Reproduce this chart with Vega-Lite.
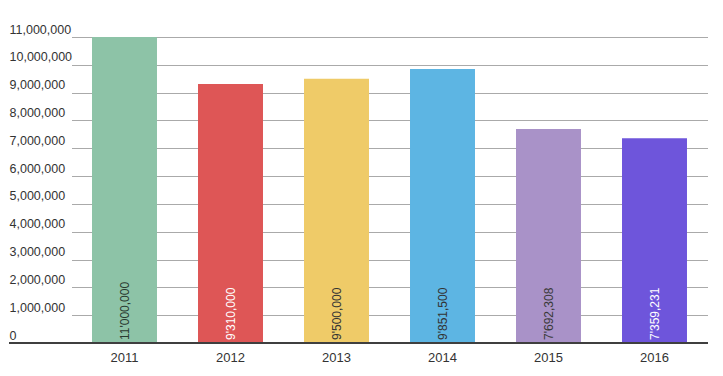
{
  "$schema": "https://vega.github.io/schema/vega-lite/v6.json",
  "autosize": {"type": "none"},
  "width": 699,
  "height": 306,
  "padding": {"left": 9, "top": 37, "right": 15, "bottom": 33},
  "background": "white",
  "config": {
    "view": {"stroke": null},
    "font": "Liberation Sans"
  },
  "data": {
    "values": [
      {"year": "2011", "value": 11000000, "label": "11'000,000", "color": "#8DC3A7", "textColor": "#2a3a30"},
      {"year": "2012", "value": 9310000, "label": "9'310,000", "color": "#DE5656", "textColor": "#ffffff"},
      {"year": "2013", "value": 9500000, "label": "9'500,000", "color": "#EFCB68", "textColor": "#333333"},
      {"year": "2014", "value": 9851500, "label": "9'851,500", "color": "#5DB5E3", "textColor": "#333333"},
      {"year": "2015", "value": 7692308, "label": "7'692,308", "color": "#A992C8", "textColor": "#3a3a3a"},
      {"year": "2016", "value": 7359231, "label": "7'359,231", "color": "#6E55DB", "textColor": "#ffffff"}
    ]
  },
  "encoding": {
    "x": {
      "field": "year", "type": "nominal", "sort": null,
      "scale": {"range": [62.5, 698.5], "paddingInner": 0.387, "paddingOuter": 0.1935},
      "axis": {
        "title": null, "domain": false, "ticks": false, "labelAngle": 0,
        "labelFontSize": 13, "labelColor": "#333333", "labelPadding": 8
      }
    },
    "y": {
      "field": "value", "type": "quantitative",
      "scale": {"domain": [0, 11000000], "nice": false},
      "axis": {
        "title": null, "domain": false, "ticks": false,
        "values": [0, 1000000, 2000000, 3000000, 4000000, 5000000, 6000000, 7000000, 8000000, 9000000, 10000000, 11000000],
        "format": ",d",
        "grid": true, "gridColor": "#aaaaaa", "gridWidth": 1,
        "labelAlign": "left", "labelPadding": 0, "labelBaseline": "alphabetic", "labelOffset": -4,
        "labelFontSize": 12.5, "labelColor": "#333333"
      }
    }
  },
  "layer": [
    {
      "mark": {"type": "bar"},
      "encoding": {
        "color": {"field": "color", "type": "nominal", "scale": null, "legend": null}
      }
    },
    {
      "mark": {"type": "rule", "color": "#3f3f3f", "strokeWidth": 2},
      "encoding": {
        "x": null,
        "y": {"datum": 0}
      }
    },
    {
      "mark": {"type": "text", "angle": 270, "align": "left", "baseline": "middle", "dx": 3, "fontSize": 12},
      "encoding": {
        "y": {"datum": 0},
        "text": {"field": "label"},
        "color": {"field": "textColor", "type": "nominal", "scale": null, "legend": null}
      }
    }
  ]
}
